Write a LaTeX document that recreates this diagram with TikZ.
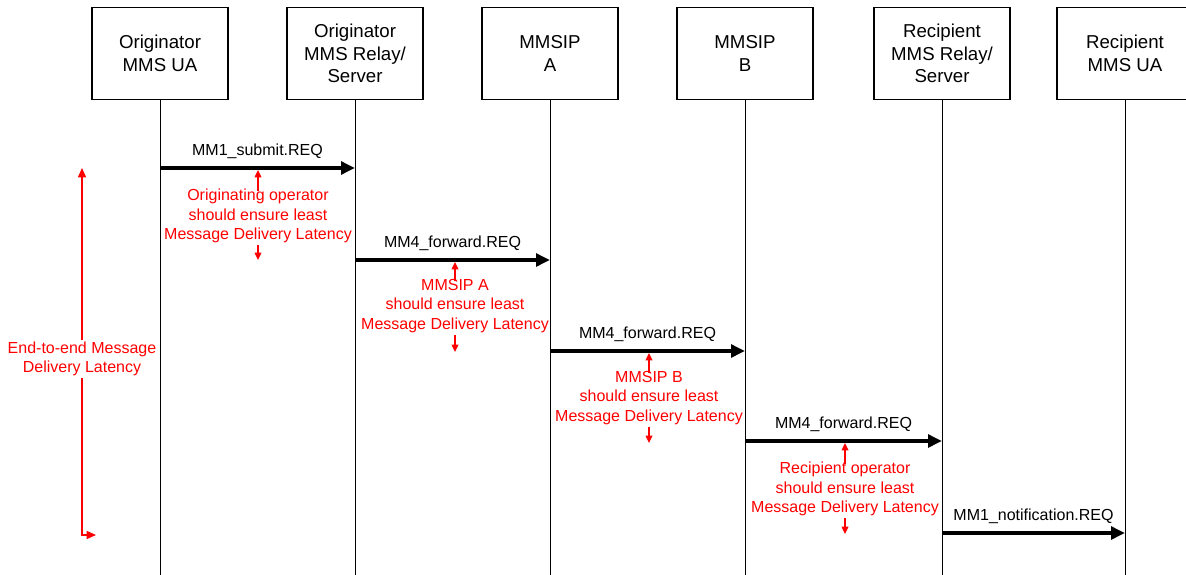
\documentclass[tikz,border=0pt]{standalone}
\usepackage{fontspec}
\setmainfont{Liberation Sans}
\usetikzlibrary{arrows.meta}
\definecolor{annot}{RGB}{255,0,0}
\begin{document}
\begin{tikzpicture}[x=0.75pt,y=-0.75pt,
  actor/.style={draw,line width=0.9pt,minimum width=102pt,minimum height=68.5pt,align=center,font=\fontsize{14}{17}\selectfont,inner sep=0pt},
  life/.style={line width=0.75pt},
  msg/.style={line width=2.6pt,-{Triangle[length=10.5pt,width=9.5pt]}},
  lbl/.style={font=\fontsize{12}{14.6}\selectfont,inner sep=0pt},
  note/.style={text=annot,align=center,font=\fontsize{12}{14.6}\selectfont,inner sep=0pt},
  rarr/.style={draw=annot,line width=1pt,-{Triangle[length=5.5pt,width=5pt]}},
  e2earr/.style={draw=annot,line width=1.1pt,{Triangle[length=7pt,width=6pt]}-{Triangle[length=7pt,width=6pt]}}]
\path[use as bounding box] (0,0) rectangle (1186,575);
\clip (0,0) rectangle (1186,575);
% actors
\node[actor] (o1) at (160,53.5) {Originator\\MMS UA};
\node[actor] (o2) at (355,53.5) {Originator\\MMS Relay/\\Server};
\node[actor] (o3) at (550,53.5) {MMSIP\\A};
\node[actor] (o4) at (745,53.5) {MMSIP\\B};
\node[actor] (o5) at (942,53.5) {Recipient\\MMS Relay/\\Server};
\node[actor] (o6) at (1125,53.5) {Recipient\\MMS UA};
% lifelines
\coordinate (b1) at (160,576);
\coordinate (b2) at (355,576);
\coordinate (b3) at (550,576);
\coordinate (b4) at (745,576);
\coordinate (b5) at (942,576);
\coordinate (b6) at (1125,576);
\foreach \i in {1,...,6} \draw[life] (o\i) -- (b\i);
% message points
\coordinate (m1a) at (160,168); \coordinate (m1b) at (355,168);
\coordinate (m2a) at (355,260); \coordinate (m2b) at (550,260);
\coordinate (m3a) at (550,351); \coordinate (m3b) at (745,351);
\coordinate (m4a) at (745,441); \coordinate (m4b) at (942,441);
\coordinate (m5a) at (942,533); \coordinate (m5b) at (1125,533);
\draw[msg] (m1a) -- node[lbl,above=5.5pt] {MM1\_submit.REQ} (m1b);
\draw[msg] (m2a) -- node[lbl,above=5.5pt] {MM4\_forward.REQ} (m2b);
\draw[msg] (m3a) -- node[lbl,above=5.5pt] {MM4\_forward.REQ} (m3b);
\draw[msg] (m4a) -- node[lbl,above=5.5pt] {MM4\_forward.REQ} (m4b);
\draw[msg] (m5a) -- node[lbl,above=5.5pt] {MM1\_notification.REQ} (m5b);
% notes
\node[note] (n1) at (258,216) {Originating operator\\should ensure least\\Message Delivery Latency};
\node[note] (n2) at (455,306) {MMSIP A\\should ensure least\\Message Delivery Latency};
\node[note] (n3) at (649,398) {MMSIP B\\should ensure least\\Message Delivery Latency};
\node[note] (n4) at (845,489) {Recipient operator\\should ensure least\\Message Delivery Latency};
\coordinate (u1) at (258,170); \coordinate (d1) at (258,260);
\coordinate (u2) at (455,262); \coordinate (d2) at (455,352);
\coordinate (u3) at (649,353); \coordinate (d3) at (649,443);
\coordinate (u4) at (845,443); \coordinate (d4) at (845,534);
\foreach \i in {1,...,4} {
  \draw[rarr] ([yshift=-1.5pt]n\i.north -| u\i) -- (u\i);
  \draw[rarr] ([yshift=-1.5pt]n\i.south -| d\i) -- (d\i);
}
% end-to-end
\coordinate (eT) at (82,168);
\coordinate (eC) at (82,535);
\coordinate (eR) at (96,535);
\draw[e2earr] (eR) -- (eC) -- (eT);
\node[note,fill=white,inner sep=1.5pt] (e2e) at (82,359) {End-to-end Message\\Delivery Latency};
\end{tikzpicture}
\end{document}
